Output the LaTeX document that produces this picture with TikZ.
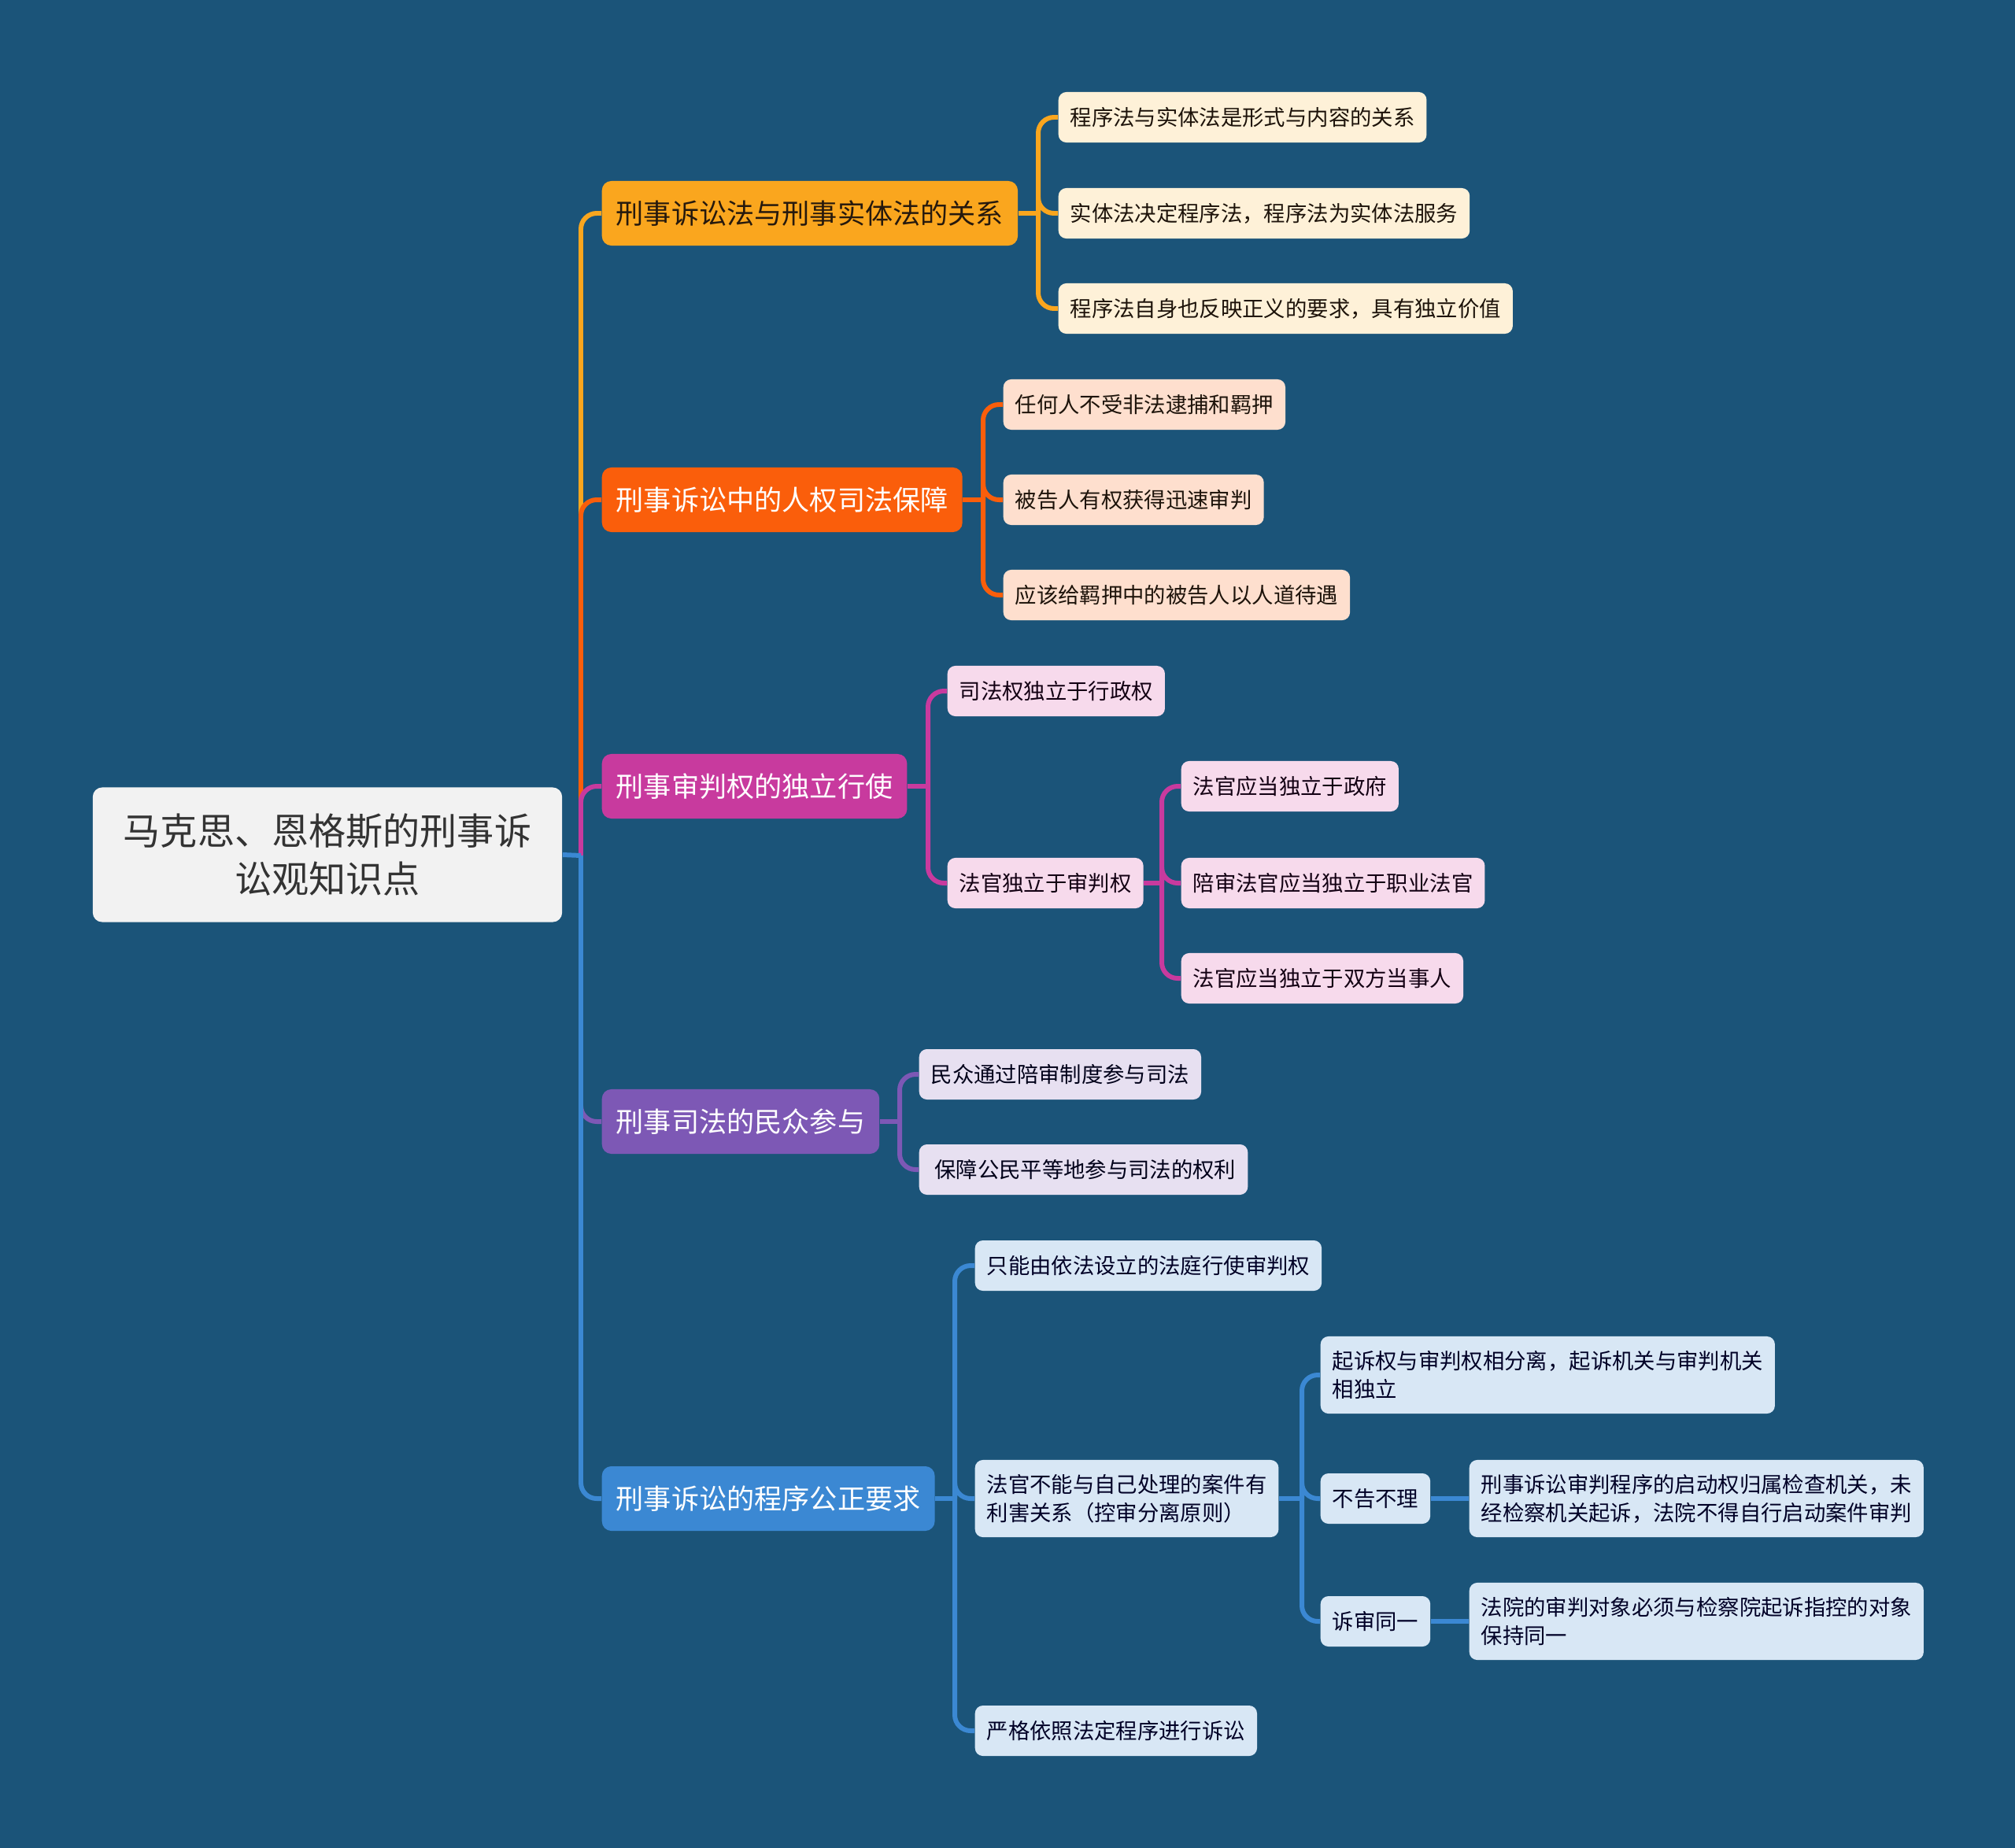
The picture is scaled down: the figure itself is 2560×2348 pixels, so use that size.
\documentclass[tikz,border=0pt]{standalone}
\usepackage{fontspec}
\setmainfont{Noto Sans CJK SC}
\definecolor{bg}{HTML}{1B5479}
\definecolor{rootfill}{HTML}{F2F2F2}
\definecolor{cA}{HTML}{FAA61E}
\definecolor{cB}{HTML}{FA5E0B}
\definecolor{cC}{HTML}{C83A9E}
\definecolor{cD}{HTML}{7D58B5}
\definecolor{cE}{HTML}{3B88D3}
\definecolor{fA}{HTML}{FEF1D8}
\definecolor{fB}{HTML}{FEDFCE}
\definecolor{fC}{HTML}{F7DAEC}
\definecolor{fD}{HTML}{E7E0F1}
\definecolor{fE}{HTML}{D8E7F5}
\tikzset{
  rootbox/.style={fill=rootfill, text=black!80, rounded corners=0.12cm,
    minimum width=5.96cm, minimum height=1.71cm, align=center,
    font=\fontsize{13.4}{17.6}\selectfont},
  mainbox/.style={rounded corners=0.12cm, minimum height=0.82cm, inner xsep=0.18cm,
    inner ysep=0pt, anchor=west, text=white, font=\fontsize{10}{12}\selectfont},
  subbox/.style={rounded corners=0.1cm, minimum height=0.64cm, inner xsep=0.15cm,
    inner ysep=0pt, anchor=west, align=left, font=\fontsize{7.78}{10.2}\selectfont},
  tall/.style={minimum height=0.98cm},
  subA/.style={subbox, fill=fA, text=black!85!brown},
  subB/.style={subbox, fill=fB, text=black!85!brown},
  subC/.style={subbox, fill=fC, text=black!85!violet},
  subD/.style={subbox, fill=fD, text=black!90!blue},
  subE/.style={subbox, fill=fE, text=black!85!blue},
  link/.style={line width=1.7pt, rounded corners=0.2cm},
}
\begin{document}
\begin{tikzpicture}[x=0.01cm, y=-0.01cm]
  \fill[bg] (0,0) rectangle (2560,2348);
  \useasboundingbox (0,0) rectangle (2560,2348);

  % root and main topics
  \node[rootbox] (root) at (416,1086) {马克思、恩格斯的刑事诉\\讼观知识点};
  \node[mainbox, fill=cA, text=black!80!brown] (relA) at (764,271) {刑事诉讼法与刑事实体法的关系};
  \node[mainbox, fill=cB] (relB) at (764,635) {刑事诉讼中的人权司法保障};
  \node[mainbox, fill=cC] (relC) at (764,999) {刑事审判权的独立行使};
  \node[mainbox, fill=cD] (relD) at (764,1425) {刑事司法的民众参与};
  \node[mainbox, fill=cE] (relE) at (764,1904) {刑事诉讼的程序公正要求};

  \coordinate (rj) at (738,1087);
  \draw[link, cA] (rj) |- (relA.west);
  \draw[link, cB] (rj) |- (relB.west);
  \draw[link, cC] (rj) |- (relC.west);
  \draw[link, cD] (rj) |- (relD.west);
  \draw[link, cE] (rj) |- (relE.west);
  \draw[link, cE] (root.east) -- (rj);

  % branch A
  \node[subA] (a1) at (1344,149) {程序法与实体法是形式与内容的关系};
  \node[subA] (a2) at (1344,271) {实体法决定程序法，程序法为实体法服务};
  \node[subA] (a3) at (1344,392) {程序法自身也反映正义的要求，具有独立价值};
  \coordinate (ja) at (1319,271);
  \draw[link, cA] (relA.east) -- (ja);
  \draw[link, cA] (ja) |- (a1.west);
  \draw[link, cA] (ja) |- (a2.west);
  \draw[link, cA] (ja) |- (a3.west);

  % branch B
  \node[subB] (b1) at (1274,514) {任何人不受非法逮捕和羁押};
  \node[subB] (b2) at (1274,635) {被告人有权获得迅速审判};
  \node[subB] (b3) at (1274,756) {应该给羁押中的被告人以人道待遇};
  \coordinate (jb) at (1249,635);
  \draw[link, cB] (relB.east) -- (jb);
  \draw[link, cB] (jb) |- (b1.west);
  \draw[link, cB] (jb) |- (b2.west);
  \draw[link, cB] (jb) |- (b3.west);

  % branch C
  \node[subC] (c1) at (1203,878) {司法权独立于行政权};
  \node[subC] (c2) at (1203,1122) {法官独立于审判权};
  \node[subC] (c21) at (1500,999) {法官应当独立于政府};
  \node[subC] (c22) at (1500,1122) {陪审法官应当独立于职业法官};
  \node[subC] (c23) at (1500,1243) {法官应当独立于双方当事人};
  \coordinate (jc) at (1179,999);
  \coordinate (jc2) at (1476,1122);
  \draw[link, cC] (relC.east) -- (jc);
  \draw[link, cC] (jc) |- (c1.west);
  \draw[link, cC] (jc) |- (c2.west);
  \draw[link, cC] (c2.east) -- (jc2);
  \draw[link, cC] (jc2) |- (c21.west);
  \draw[link, cC] (jc2) |- (c22.west);
  \draw[link, cC] (jc2) |- (c23.west);

  % branch D
  \node[subD] (d1) at (1167,1365) {民众通过陪审制度参与司法};
  \node[subD] (d2) at (1167,1486) {\,保障公民平等地参与司法的权利};
  \coordinate (jd) at (1143,1425);
  \draw[link, cD] (relD.east) -- (jd);
  \draw[link, cD] (jd) |- (d1.west);
  \draw[link, cD] (jd) |- (d2.west);

  % branch E
  \node[subE] (e1) at (1238,1608) {只能由依法设立的法庭行使审判权};
  \node[subE, tall] (e2) at (1238,1904) {法官不能与自己处理的案件有\\利害关系（控审分离原则）};
  \node[subE] (e3) at (1238,2199) {严格依照法定程序进行诉讼};
  \node[subE, tall] (e21) at (1677,1747) {起诉权与审判权相分离，起诉机关与审判机关\\相独立};
  \node[subE] (e22) at (1677,1904) {不告不理};
  \node[subE] (e23) at (1677,2060) {诉审同一};
  \node[subE, tall] (e221) at (1866,1904) {刑事诉讼审判程序的启动权归属检查机关，未\\经检察机关起诉，法院不得自行启动案件审判};
  \node[subE, tall] (e231) at (1866,2060) {法院的审判对象必须与检察院起诉指控的对象\\保持同一};
  \coordinate (je) at (1213,1904);
  \coordinate (je2) at (1654,1904);
  \draw[link, cE] (relE.east) -- (je);
  \draw[link, cE] (je) |- (e1.west);
  \draw[link, cE] (je) |- (e2.west);
  \draw[link, cE] (je) |- (e3.west);
  \draw[link, cE] (e2.east) -- (je2);
  \draw[link, cE] (je2) |- (e21.west);
  \draw[link, cE] (je2) |- (e22.west);
  \draw[link, cE] (je2) |- (e23.west);
  \draw[link, cE] (e22.east) -- (e221.west);
  \draw[link, cE] (e23.east) -- (e231.west);
\end{tikzpicture}
\end{document}
